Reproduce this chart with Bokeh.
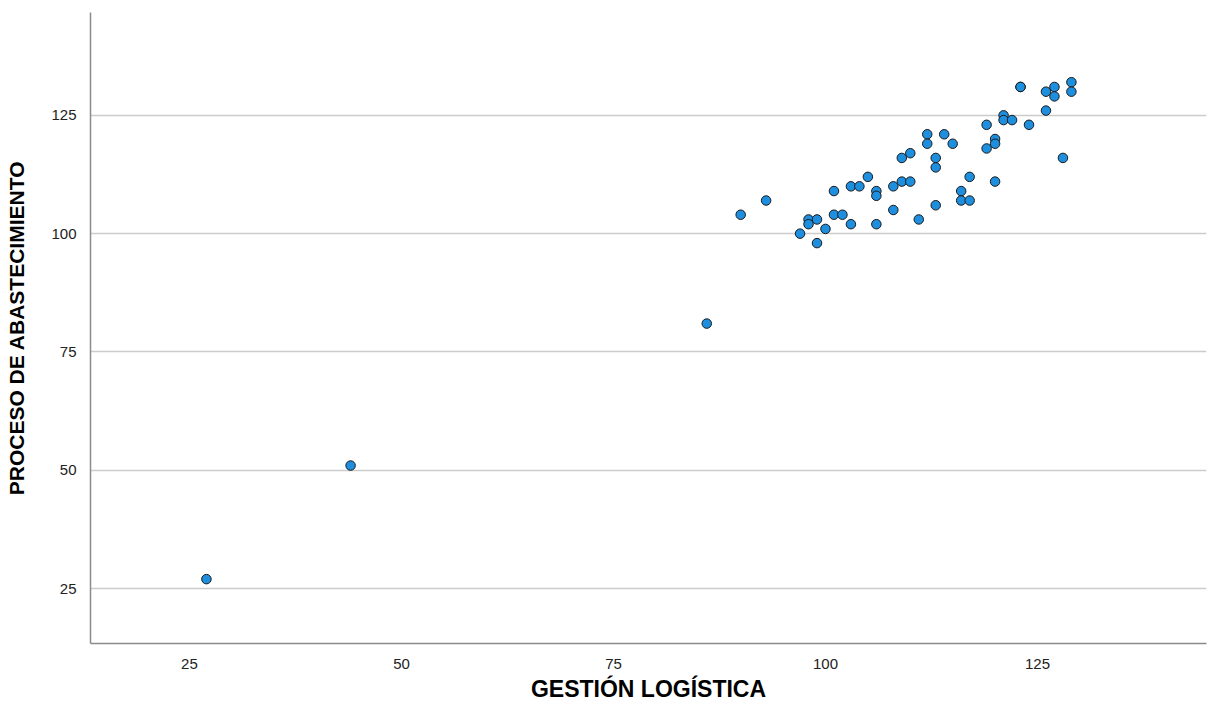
from bokeh.plotting import figure
from bokeh.models import Range1d, FixedTicker, ColumnDataSource
from bokeh.embed import file_html
from bokeh.resources import INLINE

gestion = [27, 44, 86, 90, 93, 97, 98, 98, 99, 99, 100, 101, 101, 102, 103, 103,
           104, 105, 106, 106, 106, 108, 108, 109, 110, 109, 110, 111, 113, 113,
           113, 116, 116, 117, 117, 112, 112, 114, 115, 119, 120, 120, 119, 120,
           121, 121, 122, 124, 126, 128, 123, 123, 126, 127, 127, 129, 129]
proceso = [27, 51, 81, 104, 107, 100, 103, 102, 103, 98, 101, 109, 104, 104, 102, 110,
           110, 112, 109, 108, 102, 110, 105, 111, 111, 116, 117, 103, 116, 114,
           106, 109, 107, 107, 112, 121, 119, 121, 119, 123, 120, 119, 118, 111,
           125, 124, 124, 123, 126, 116, 131, 131, 130, 131, 129, 132, 130]
ticks = [25, 50, 75, 100, 125]
x_title = "GESTIÓN LOGÍSTICA"
y_title = "PROCESO DE ABASTECIMIENTO"

src = ColumnDataSource(dict(x=gestion, y=proceso))

p = figure(width=1207, height=704, output_backend="svg", toolbar_location=None,
           x_range=Range1d(13.33, 144.93), y_range=Range1d(13.4, 146.73),
           min_border_left=90, min_border_right=1, min_border_top=12, min_border_bottom=60)
p.outline_line_color = None
p.background_fill_color = "white"
p.border_fill_color = "white"

p.scatter("x", "y", source=src, size=9.5, fill_color="#1e8fdf",
          line_color="#1a1a1a", line_width=1)

for ax in (p.xaxis[0], p.yaxis[0]):
    ax.ticker = FixedTicker(ticks=ticks)
    ax.major_tick_line_color = None
    ax.minor_tick_line_color = None
    ax.axis_line_color = "#8a8a8a"
    ax.axis_line_width = 1.5
    ax.major_label_text_font = "Liberation Sans"
    ax.major_label_text_font_size = "15px"
    ax.major_label_text_color = "#222222"
    ax.axis_label_text_font = "Liberation Sans"
    ax.axis_label_text_font_style = "bold"
    ax.axis_label_text_color = "#000000"

p.xaxis.axis_label = x_title
p.xaxis.axis_label_text_font_size = "23px"
p.xaxis.major_label_standoff = 9
p.xaxis.axis_label_standoff = 4

p.yaxis.axis_label = y_title
p.yaxis.axis_label_text_font_size = "21px"
p.yaxis.major_label_standoff = 8
p.yaxis.axis_label_standoff = 20

p.xgrid.grid_line_color = None
p.ygrid.grid_line_color = "#cccccc"
p.ygrid.grid_line_width = 1.5

open("out.html", "w").write(file_html(p, INLINE))
